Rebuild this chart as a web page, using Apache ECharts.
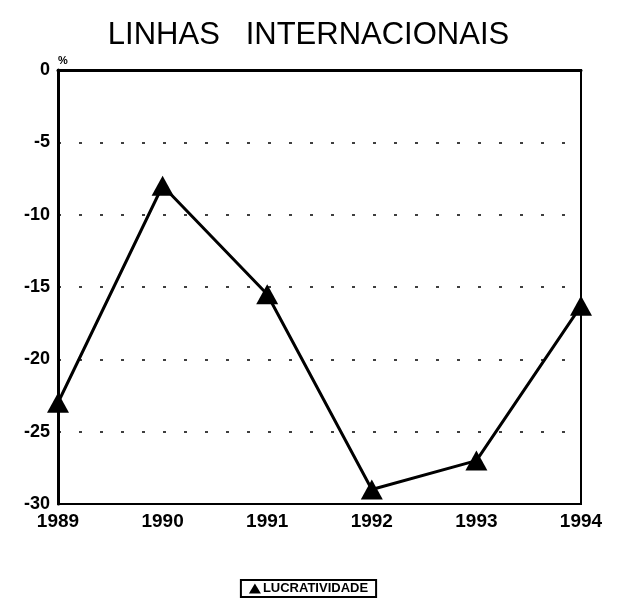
<!DOCTYPE html>
<html>
<head>
<meta charset="utf-8">
<script src="https://cdn.jsdelivr.net/npm/echarts@6/dist/echarts.min.js"></script>
<style>
    html, body { margin: 0; padding: 0; background: #fff; }
    #myChart { width: 617px; height: 607px; }
</style>
</head>
<body>
<div id="myChart"></div>
<script>
    var years = ['1989', '1990', '1991', '1992', '1993', '1994'];
    var lucratividade = [-23, -8, -15.5, -29, -27, -16.3];
    var yTicks = [0, -5, -10, -15, -20, -25, -30];

    var myChart = echarts.init(document.getElementById('myChart'));
    myChart.setOption({
        backgroundColor: '#fff',
        title: {
            text: 'LINHAS   INTERNACIONAIS',
            left: 'center',
            top: 15,
            textStyle: {
                fontFamily: 'Liberation Sans',
                fontSize: 31,
                fontWeight: 'normal',
                color: '#000'
            }
        },
        grid: {
            left: 58,
            right: 36,
            top: 70,
            bottom: 103,
            show: true,
            borderColor: '#000',
            borderWidth: 2
        },
        legend: {
            bottom: 10,
            left: 'center',
            data: ['LUCRATIVIDADE'],
            icon: 'triangle',
            itemWidth: 12,
            itemHeight: 10,
            itemGap: 2,
            padding: [2, 8],
            borderColor: '#000',
            borderWidth: 2,
            textStyle: {
                fontFamily: 'Liberation Sans',
                fontSize: 13,
                fontWeight: 'bold',
                color: '#000',
                padding: [0, 0, 0, -3]
            }
        },
        xAxis: {
            type: 'category',
            data: years,
            boundaryGap: false,
            axisLine: { lineStyle: { color: '#000', width: 3 } },
            axisTick: { show: false },
            axisLabel: {
                color: '#000',
                fontFamily: 'Liberation Sans',
                fontSize: 19,
                fontWeight: 'bold',
                margin: 8
            }
        },
        yAxis: {
            type: 'value',
            min: -30,
            max: 0,
            interval: 5,
            name: '%',
            nameGap: 4,
            nameTextStyle: {
                color: '#000',
                fontSize: 11,
                fontWeight: 'bold',
                align: 'left'
            },
            axisLine: { show: true, lineStyle: { color: '#000', width: 3 } },
            axisTick: { show: false },
            axisLabel: {
                color: '#000',
                fontFamily: 'Liberation Sans',
                fontSize: 18,
                fontWeight: 'bold',
                margin: 8,
                formatter: function (v) {
                    return yTicks.indexOf(v) >= 0 ? String(v) : '';
                }
            },
            splitLine: {
                show: true,
                lineStyle: { color: '#000', width: 1.5, type: [3, 18] }
            }
        },
        series: [{
            name: 'LUCRATIVIDADE',
            type: 'line',
            data: lucratividade,
            symbol: 'triangle',
            symbolSize: [22, 20],
            lineStyle: { color: '#000', width: 3 },
            itemStyle: { color: '#000' },
            z: 5
        }]
    });
</script>
</body>
</html>
